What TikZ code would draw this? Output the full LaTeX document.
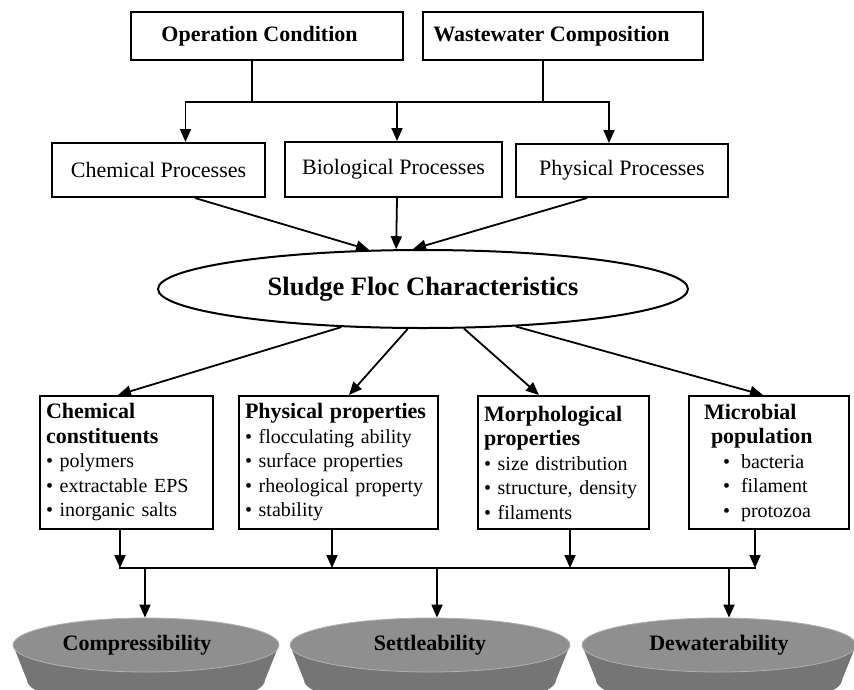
\documentclass[tikz,border=0pt]{standalone}
\usepackage{fontspec}
\setmainfont{Liberation Serif}
\usetikzlibrary{arrows.meta,shapes.geometric}

\definecolor{disctop}{gray}{0.56}
\definecolor{discside}{gray}{0.46}

\newcommand{\boxhead}[1]{{\fontsize{22}{24.5}\selectfont\bfseries #1}}

\begin{document}
\begin{tikzpicture}[x=1pt,y=-1pt,
    box/.style={draw,line width=2pt,inner sep=0pt,font=\fontsize{22}{26}\selectfont},
    prop/.style={draw,line width=2pt,inner xsep=6pt,inner ysep=0pt,align=left,minimum height=133pt,anchor=north west,font=\fontsize{20}{24.5}\selectfont},
    arr/.style={line width=1.8pt,-{Triangle[length=13pt,width=11pt]}},
    disc/.style={ellipse,fill=disctop,draw=disctop!70!white,line width=0.8pt,inner sep=0pt,minimum height=54pt,font=\fontsize{22}{26}\selectfont\bfseries}]
  \useasboundingbox (0,0) rectangle (854,689);

  \node(op)[box,minimum width=272pt,minimum height=48pt] at (267,36){\hspace*{-15pt}\bfseries Operation Condition};
  \node(ww)[box,minimum width=280pt,minimum height=48pt] at (563,36){\hspace*{-23pt}\bfseries Wastewater Composition};
  \node(chp)[box,minimum width=213pt,minimum height=54pt] at (158.5,170){Chemical Processes};
  \node(bip)[box,minimum width=217pt,minimum height=55pt] at (393.5,169.5){Biological Processes};
  \node(php)[box,minimum width=212pt,minimum height=53pt] at (622,170.5){Physical Processes};

  \coordinate (jl) at (185.5,102);
  \coordinate (jr) at (609,102);
  \draw[line width=1.8pt,line cap=rect] (jl) -- (jr);
  \draw[line width=1.8pt] ([xshift=-15pt]op.south) -- ([xshift=-15pt]op.south |- jl);
  \draw[line width=1.8pt] ([xshift=-20pt]ww.south) -- ([xshift=-20pt]ww.south |- jl);
  \path[arr] (jl) edge ([xshift=27pt]chp.north)
    ([xshift=3.5pt]bip.north |- jl) edge ([xshift=3.5pt]bip.north)
    (jr) edge ([xshift=-13pt]php.north);

  \node(floc)[ellipse,draw,line width=2pt,minimum width=530pt,minimum height=78pt,inner sep=0pt,
    font=\fontsize{26.5}{30}\selectfont\bfseries] at (423,289){Sludge Floc Characteristics};
  \path[arr] ([xshift=36.5pt]chp.south) edge (floc.144)
    ([xshift=3.5pt]bip.south) edge (floc.124)
    ([xshift=-35pt]php.south) edge (floc.104);

  \node(cc)[prop,text width=161pt] at (39,395){\boxhead{Chemical}\\ \boxhead{constituents}\\
    \textbullet\ polymers\\ \textbullet\ extractable EPS\\ \textbullet\ inorganic salts};
  \node(pp)[prop,text width=187pt] at (238,395){\boxhead{Physical properties}\\
    \textbullet\ flocculating ability\\ \textbullet\ surface properties\\ \textbullet\ rheological property\\ \textbullet\ stability};
  \node(mp)[prop,text width=159pt] at (477,395){\boxhead{Morphological}\\ \boxhead{properties}\\
    \textbullet\ size distribution\\ \textbullet\ structure, density\\ \textbullet\ filaments};
  \node(mb)[prop,text width=148pt] at (688,395){\hspace*{9pt}\boxhead{Microbial}\\ \hspace*{16pt}\boxhead{population}\\
    \hspace*{28pt}\textbullet\hspace{11pt}bacteria\\ \hspace*{28pt}\textbullet\hspace{11pt}filament\\ \hspace*{28pt}\textbullet\hspace{11pt}protozoa};
  \path[arr] (floc.205) edge ([xshift=-8.5pt]cc.north)
    (floc.249) edge ([xshift=10.5pt]pp.north)
    (floc.316) edge ([xshift=-24.5pt]mp.north)
    (floc.338) edge ([xshift=-6pt]mb.north);

  \coordinate (bl) at (120,568);
  \coordinate (br) at (755,568);
  \draw[line width=1.8pt,line cap=rect] (bl) -- (br);
  \path[arr] (bl |- cc.south) edge (bl)
    ([xshift=-6.5pt]pp.south) edge ([xshift=-6.5pt]pp.south |- bl)
    ([xshift=6.5pt]mp.south) edge ([xshift=6.5pt]mp.south |- bl)
    (br |- mb.south) edge (br);

  \fill[discside] (13,645) -- ++(14,35) arc[start angle=180,end angle=360,x radius=119pt,y radius=27pt] -- (279,645) -- cycle;
  \node(cmp)[disc,minimum width=266pt] at (146,645){\hspace*{-18pt}Compressibility};
  \fill[discside] (290,645) -- ++(14,35) arc[start angle=180,end angle=360,x radius=126pt,y radius=27pt] -- (570,645) -- cycle;
  \node(stl)[disc,minimum width=280pt] at (430,645){Settleability};
  \fill[discside] (582,645) -- ++(14,35) arc[start angle=180,end angle=360,x radius=123pt,y radius=27pt] -- (856,645) -- cycle;
  \node(dwt)[disc,minimum width=274pt] at (719,645){Dewaterability};
  \path[arr] ([xshift=-1pt]cmp.north |- bl) edge ([xshift=-1pt]cmp.north)
    ([xshift=7pt]stl.north |- bl) edge ([xshift=7pt]stl.north)
    ([xshift=10pt]dwt.north |- bl) edge ([xshift=10pt]dwt.north);
\end{tikzpicture}
\end{document}
